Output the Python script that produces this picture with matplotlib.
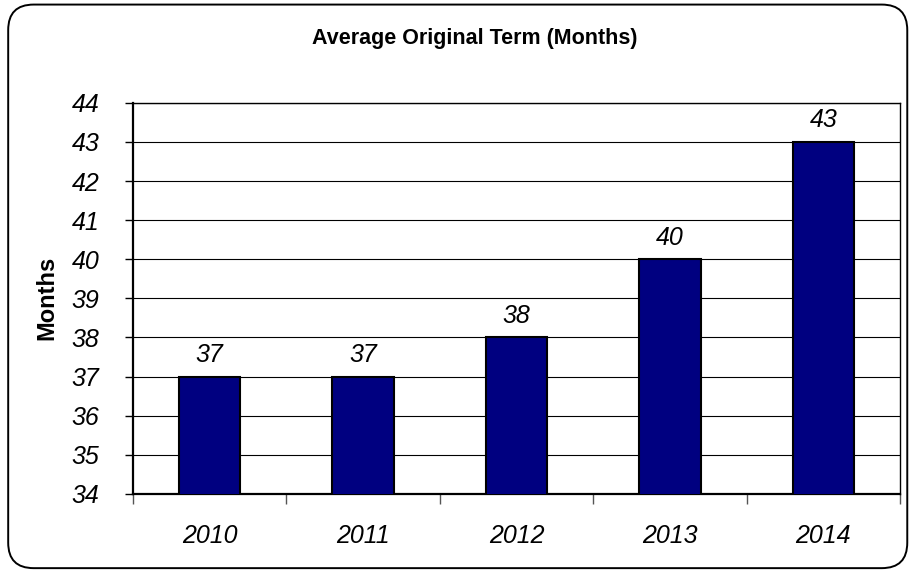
import matplotlib.pyplot as plt
from matplotlib.patches import FancyBboxPatch

# data
years = ['2010', '2011', '2012', '2013', '2014']
months = [37, 37, 38, 40, 43]
yticks = [34, 35, 36, 37, 38, 39, 40, 41, 42, 43, 44]

plt.rcParams['font.family'] = ['Liberation Sans', 'DejaVu Sans']

fig = plt.figure(figsize=(9.10, 5.71), dpi=100)
ax = fig.add_axes([0.146, 0.135, 0.843, 0.685])

# rounded frame around the whole chart
frame = FancyBboxPatch((0.009, 0.005), 0.988, 0.987,
                       boxstyle='round,pad=0,rounding_size=0.028',
                       transform=fig.transFigure, fill=False,
                       edgecolor='black', linewidth=1.4, mutation_aspect=910 / 571)
fig.patches.append(frame)

x = list(range(len(years)))
bars = ax.bar(x, months, width=0.4, color='#000080', edgecolor='black', linewidth=1.5, zorder=3)

for b, v in zip(bars, months):
    ax.annotate(str(v), (b.get_x() + b.get_width() / 2, v), xytext=(0, 7),
                textcoords='offset points', ha='center', va='bottom',
                fontsize=18, style='italic')

ax.set_xlim(-0.5, 4.5)
ax.set_ylim(34, 44)
ax.set_yticks(yticks)
ax.set_yticklabels([str(t) for t in yticks], fontsize=18, style='italic')
ax.tick_params(axis='y', length=6, width=1, pad=18, direction='out')

ax.set_xticks(x)
ax.set_xticklabels(years, fontsize=18, style='italic')
ax.set_xticks([i - 0.5 for i in range(len(years) + 1)], minor=True)
ax.tick_params(axis='x', which='major', length=0, pad=22)
ax.tick_params(axis='x', which='minor', length=7, width=1, color='#555555')

ax.grid(axis='y', color='black', linewidth=0.8, zorder=0)
for s in ['left', 'bottom']:
    ax.spines[s].set_linewidth(1.6)
for s in ['top', 'right']:
    ax.spines[s].set_linewidth(1.0)

ax.set_ylabel('Months', fontsize=17, fontweight='bold', labelpad=10)
fig.text(0.522, 0.933, 'Average Original Term (Months)', ha='center', va='center',
         fontsize=15.5, fontweight='bold')

plt.savefig('out.png', dpi=100)
